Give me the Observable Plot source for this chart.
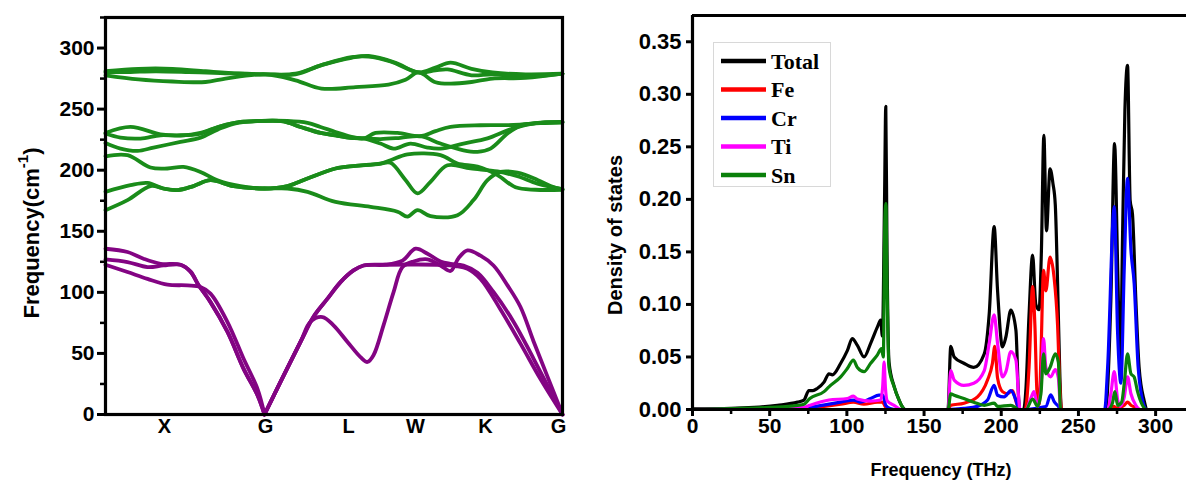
<!DOCTYPE html>
<html>
<head>
<meta charset="utf-8">
<script src="https://cdn.jsdelivr.net/npm/d3@7"></script>
<script src="https://cdn.jsdelivr.net/npm/@observablehq/plot@0.6"></script>
<style>
  html, body { margin: 0; padding: 0; background: #fff; overflow: hidden; }
  #wrap { position: relative; width: 1186px; height: 482px; background: #fff; }
  #left { position: absolute; left: 0; top: 0; width: 600px; height: 482px; }
  #right { position: absolute; left: 600px; top: 0; width: 586px; height: 482px; }
  #legend { position: absolute; left: 713px; top: 42px; width: 116px; height: 143px;
            border: 1px solid #d8d8d8; background: #fff; }
  svg { overflow: visible; }
</style>
</head>
<body>
<div id="wrap">
  <div id="left"></div>
  <div id="right"></div>
  <div id="legend"></div>
</div>
<script>
// ---------------- Left panel: phonon dispersion (k-path distance, frequency cm^-1) ----------------
const kPoints = [59, 160, 243, 310, 380, 453];
const kLabels = ["X", "G", "L", "W", "K", "G"];
const freqTicks = [0, 50, 100, 150, 200, 250, 300];
const freqMinorTicks = [25, 75, 125, 175, 225, 275, 325];

// acoustic branches
const acousticLow = [[0,122.6],[22,116.6],[42,111],[62,106.3],[82,105.7],[95,104.4],[105,99],[122,75.7],[138,45.8],[152,21],[159,0],[175,26.7],[195,59.4],[205,76],[217,79.8],[228,73],[242,59.4],[255,47],[262,43],[268,48.5],[278,73],[288,100],[297,120.7],[308,125.3],[322,127],[335,122],[345,117.5],[353,128],[362,134.3],[375,130],[388,122],[402,105.7],[415,88],[428,60],[442,31],[457,0]];
const acousticMid = [[0,127],[22,124.8],[42,120.7],[58,122],[75,122.6],[85,117],[93,106],[105,92],[122,67.6],[138,37.6],[152,15.8],[159,0],[175,26.7],[195,59.4],[208,80],[222,94.8],[235,108.4],[248,118],[258,122],[280,122.6],[310,122.8],[335,122.5],[350,121.5],[362,119.3],[375,111],[395,86],[415,58],[435,29],[457,0]];
const acousticTop = [[0,135.7],[22,133],[38,127.5],[55,123.4],[75,122.6],[85,117],[93,106],[105,92],[122,67.6],[138,37.6],[152,15.8],[159,0],[175,26.7],[195,59.4],[208,80],[222,94.8],[235,108.4],[248,118],[258,122],[280,122.6],[297,126],[310,135.7],[322,131.6],[335,125.3],[345,123.4],[358,122],[372,116],[388,100.3],[408,76],[428,45.8],[457,0]];

// optical branches, lower group
const opticalD = [[0,211.4],[22,212.3],[45,202.2],[62,201.4],[78,202.7],[95,198.6],[112,191.8],[135,187],[159,185],[182,187],[202,193.2],[230,201.4],[250,203.5],[275,205.4],[285,208.2],[302,213],[335,212.3],[352,205.4],[372,203],[392,196],[410,186],[430,184],[457,184]];
const opticalE = [[0,182.3],[25,187.7],[42,189.6],[58,185],[72,183.7],[88,187],[105,191.8],[128,187],[159,185],[182,185],[202,182.3],[230,174],[265,170],[292,166],[302,162],[312,167.3],[325,162.4],[352,163.2],[368,175.5],[382,191.8],[395,198.6],[412,198],[432,192],[445,187],[457,184]];
const opticalF = [[0,167.3],[22,175.5],[45,187],[58,185],[72,183.7],[88,187],[105,191.8],[128,187],[159,185],[182,187],[202,193.2],[230,201.4],[250,203.5],[275,205.4],[285,206],[300,192],[312,181],[325,190.5],[342,204],[365,201.4],[392,199],[412,195],[432,189],[457,184.5]];

// optical branches, middle group
const opticalM1 = [[0,230.5],[25,235.4],[55,229.4],[75,228.6],[95,230],[115,236],[135,239.5],[155,240.3],[182,240.3],[202,238.7],[215,235.4],[230,231.3],[245,227.5],[258,226],[270,230.5],[292,230.5],[315,227.8],[330,232],[345,235.4],[375,236.8],[408,237],[435,238.5],[457,239]];
const opticalM2 = [[0,230],[15,226.7],[35,225.9],[55,228.6],[75,228.3],[95,230.5],[115,236],[135,239.5],[155,240.3],[178,240],[195,235.4],[215,230.5],[230,228.6],[245,226.5],[258,226],[275,225.5],[295,226.5],[315,227.8],[335,221.8],[358,216.3],[372,215],[385,217.7],[402,230],[415,236.5],[435,238.8],[457,239.5]];
const opticalM3 = [[0,222.3],[15,217.7],[32,215.8],[48,218.5],[75,223.2],[95,226.7],[112,233.2],[128,238],[155,240.3],[178,240],[195,235.4],[215,230.5],[230,228.6],[245,226.5],[258,226],[275,221.8],[288,217.7],[305,221.8],[322,218.5],[335,217.7],[358,221.8],[382,226],[405,233.5],[430,238.5],[457,239.5]];

// optical branches, top group
const opticalT1 = [[0,281],[33,283],[67,283],[100,281],[133,279.2],[160,278.5],[190,278.5],[216,286],[246,292],[263,293.5],[290,288],[313,280],[330,284],[345,288],[366,283],[387,280],[420,278.5],[457,279]];
const opticalT2 = [[0,280],[25,280.4],[50,281],[83,280.4],[115,279.5],[160,278.5],[190,279],[216,286],[246,292.5],[263,293],[285,289],[313,280],[330,281.7],[342,282.5],[366,277.7],[387,278.5],[420,276.5],[457,279]];
const opticalT3 = [[0,277.7],[33,274.3],[67,272.6],[100,272.2],[120,275],[160,278.5],[190,273.6],[216,266.8],[250,268],[283,270],[300,274],[313,280],[330,272],[345,270.8],[366,272.2],[387,275],[420,275.5],[457,279]];

// ---------------- Right panel: phonon DOS (frequency THz, density of states) ----------------
const thzTicks = [0, 50, 100, 150, 200, 250, 300];
const thzMinorTicks = [25, 75, 125, 175, 225, 275];
const dosTicks = [0, 0.05, 0.10, 0.15, 0.20, 0.25, 0.30, 0.35];

const dosTotal = [[0,0.0005],[25,0.001],[40,0.002],[55,0.004],[68,0.007],[72.2,0.009],[75.4,0.018],[78,0.018],[80.8,0.02],[85.2,0.026],[88.4,0.034],[90.6,0.033],[96,0.044],[100.3,0.056],[103.5,0.0675],[106.8,0.061],[111.1,0.05],[115.4,0.063],[119.8,0.0786],[121.9,0.085],[123,0.07],[124.4,0.2],[125.2,0.2885],[126,0.15],[127.3,0.045],[130.6,0.022],[133.8,0.009],[136,0.0025],[138,0],[165.5,0],[167.3,0.06],[169.5,0.05],[175.8,0.044],[182.2,0.04],[189,0.053],[192.2,0.091],[195.4,0.174],[197.6,0.1135],[200.8,0.0596],[203,0.069],[206.2,0.0945],[209.5,0.0755],[211.3,0.01],[212,0],[214.5,0],[216,0.02],[218,0.09],[220.3,0.147],[222.4,0.1],[224.5,0.095],[226,0.15],[227.6,0.261],[229.3,0.17],[231.6,0.229],[233.5,0.215],[235,0.195],[236.5,0.12],[238,0.03],[239,0],[267.5,0],[271,0.104],[273.4,0.253],[275.4,0.136],[277.1,0.04],[278.6,0.167],[280.1,0.285],[281.8,0.3275],[283.5,0.199],[285,0.186],[287.2,0.104],[289.3,0.04],[292.5,0.009],[294.8,0],[320,0]];
const dosFe = [[0,0],[72,0.001],[80,0.002],[96,0.005],[104.2,0.007],[111,0.005],[119.8,0.007],[123,0.007],[125.2,0.002],[128,0],[165.5,0],[167.3,0.004],[175.8,0.006],[184.6,0.012],[191.1,0.028],[194.3,0.044],[195.8,0.06],[197.6,0.03],[200.8,0.017],[204,0.015],[207.3,0.018],[209.5,0.008],[211.6,0],[215.5,0],[218,0.04],[220.3,0.117],[221.8,0.08],[223.1,0.018],[224.6,0.005],[225.7,0.05],[227.4,0.1325],[228.9,0.113],[231.6,0.145],[234.2,0.126],[236.5,0.08],[238,0.02],[239,0],[270,0],[273,0.003],[275,0.001],[279.7,0.004],[281.8,0.007],[284,0.004],[287,0.002],[290,0],[320,0]];
const dosCr = [[0,0],[72,0.001],[80,0.003],[96,0.007],[104.2,0.009],[109,0.007],[115.4,0.0105],[120.8,0.0136],[123.3,0.0136],[125.2,0.004],[128,0.001],[132,0],[165.5,0],[175.8,0.001],[184.6,0.003],[191.1,0.009],[195.4,0.023],[197.6,0.0136],[201.9,0.012],[206.2,0.018],[209.5,0.009],[211.6,0],[216,0],[226,0.002],[229,0.003],[232,0.014],[234.5,0.007],[237,0.003],[238.5,0],[267,0],[268.9,0.04],[273.2,0.193],[275.4,0.072],[277.5,0.025],[279.7,0.136],[281.8,0.22],[284,0.152],[286.1,0.12],[288.7,0.04],[292.6,0.003],[294,0],[320,0]];
const dosTi = [[0,0],[50,0.001],[72,0.002],[76,0.004],[88.4,0.009],[100.3,0.0105],[104.2,0.0127],[106.8,0.01],[115.4,0.008],[121.9,0.009],[123.2,0.022],[124.1,0.045],[125,0.02],[126.2,0.008],[130.6,0.004],[135,0],[165.5,0],[167.3,0.037],[169.5,0.028],[175.8,0.023],[182.2,0.025],[189,0.037],[192.2,0.063],[195.4,0.09],[197.6,0.063],[200.8,0.031],[203,0.036],[206.2,0.055],[209.5,0.047],[211.6,0.005],[212,0],[216,0],[219.5,0.012],[221.2,0.017],[223.5,0.003],[225.7,0.02],[227.4,0.0675],[228.9,0.04],[232,0.031],[235,0.038],[237,0.03],[238.5,0],[269,0],[271,0.015],[273.2,0.036],[275.4,0.009],[277,0.003],[279.7,0.012],[281.8,0.031],[284,0.015],[287.2,0.004],[290,0],[320,0]];
const dosSn = [[0,0],[25,0.0008],[50,0.002],[68,0.004],[72.2,0.005],[76,0.0105],[85.2,0.017],[88.4,0.0216],[96,0.031],[100.3,0.039],[104.2,0.047],[106.8,0.04],[111.1,0.036],[115.4,0.044],[119.8,0.052],[122.4,0.058],[123.6,0.05],[124.6,0.18],[125.3,0.196],[126,0.12],[127.3,0.04],[130.6,0.0216],[133.8,0.009],[136,0.0025],[137.5,0],[165.5,0],[167.3,0.015],[169.5,0.0136],[175.8,0.0105],[182.2,0.007],[189,0.004],[195.4,0.006],[197.6,0.003],[206.2,0.004],[211.6,0],[216,0],[220.3,0.01],[223.5,0.003],[225.7,0.015],[227.4,0.053],[228.9,0.034],[231.6,0.04],[235,0.053],[237,0.045],[238.5,0],[269,0],[272,0.006],[273.6,0.017],[275.4,0.004],[278,0.007],[279.7,0.025],[281.8,0.053],[284,0.034],[286.1,0.031],[288.3,0.017],[291.5,0.004],[294,0],[320,0]];

const dosSeries = ["Total", "Fe", "Cr", "Ti", "Sn"];
const dosColors = ["#000000", "#ff0000", "#0000ff", "#ff00ff", "#0a800a"];
const dosValues = [dosTotal, dosFe, dosCr, dosTi, dosSn];

// ---------------- build tables ----------------
const GREEN = "#1a8c1a";
const PURPLE = "#830483";
function rowsOf(name, pts, split) {
  const rows = [];
  pts.forEach(([k, f]) => {
    if (split == null) rows.push({k, f, seg: name});
    else {
      if (k <= split) rows.push({k, f, seg: name + "-a"});
      if (k >= split) rows.push({k, f, seg: name + "-b"});
    }
  });
  return rows;
}
const acousticRows = [
  ...rowsOf("low", acousticLow, 159),
  ...rowsOf("mid", acousticMid, 159),
  ...rowsOf("top", acousticTop, 159)
];
const opticalRows = [
  ["D", opticalD], ["E", opticalE], ["F", opticalF],
  ["M1", opticalM1], ["M2", opticalM2], ["M3", opticalM3],
  ["T1", opticalT1], ["T2", opticalT2], ["T3", opticalT3]
].flatMap(([n, p]) => rowsOf(n, p, null));

const bold = {fontFamily: "'Liberation Sans', Arial, sans-serif", fontWeight: "bold", color: "#000", background: "transparent"};

const left = Plot.plot({
  width: 600, height: 482,
  marginLeft: 105, marginRight: 38, marginTop: 17, marginBottom: 68,
  style: bold,
  x: {domain: [0, 457]},
  y: {domain: [0, 325]},
  marks: [
    Plot.line(acousticRows, {x: "k", y: "f", z: "seg", stroke: PURPLE, strokeWidth: 3.8, curve: "catmull-rom"}),
    Plot.line(opticalRows, {x: "k", y: "f", z: "seg", stroke: GREEN, strokeWidth: 3.8, curve: "catmull-rom"}),
    Plot.frame({stroke: "#000", strokeWidth: 3.2}),
    Plot.axisY({ticks: freqTicks, tickSize: 8, tickPadding: 3, fontSize: 21, fontWeight: "bold", strokeWidth: 3, label: null}),
    Plot.axisY({ticks: freqMinorTicks, tickSize: 5, tickFormat: () => "", strokeWidth: 2.5, label: null}),
    Plot.axisX({ticks: kPoints, tickFormat: (d, i) => kLabels[i], tickSize: 0, tickPadding: 4, fontSize: 20, fontWeight: "bold", label: null})
  ]
});
d3.select(left).append("text")
  .attr("transform", "translate(31,233) rotate(-90)")
  .attr("text-anchor", "middle")
  .attr("dominant-baseline", "central")
  .attr("font-size", 22).attr("font-weight", "bold")
  .attr("font-family", "'Liberation Sans', Arial, sans-serif")
  .call(t => {
    t.append("tspan").text("Frequency(cm");
    t.append("tspan").attr("dy", -9).attr("font-size", 15).text("-1");
    t.append("tspan").attr("dy", 9).text(")");
  });
document.getElementById("left").appendChild(left);

const dosMarks = dosValues.map((vals, i) =>
  Plot.line(vals, {x: d => d[0], y: d => d[1], stroke: dosColors[i], strokeWidth: 3.2, curve: "monotone-x"})
);
const right = Plot.plot({
  width: 586, height: 482,
  marginLeft: 92, marginRight: 0, marginTop: 15, marginBottom: 73,
  style: bold,
  x: {domain: [0, 320]},
  y: {domain: [0, 0.375]},
  marks: [
    ...dosMarks,
    Plot.ruleY([0], {stroke: "#000", strokeWidth: 3.2}),
    Plot.ruleY([0.375], {stroke: "#000", strokeWidth: 3.2}),
    Plot.ruleX([0], {stroke: "#000", strokeWidth: 3.2}),
    Plot.axisY({ticks: dosTicks, tickFormat: d3.format(".2f"), tickSize: 6, tickPadding: 5, fontSize: 22, fontWeight: "bold", strokeWidth: 3, label: null}),
    Plot.axisX({ticks: thzTicks, tickSize: 7, tickPadding: 2, fontSize: 21, fontWeight: "bold", strokeWidth: 3, label: null}),
    Plot.axisX({ticks: thzMinorTicks, tickSize: 5, tickFormat: () => "", strokeWidth: 2.5, label: null})
  ]
});
d3.select(right).append("text")
  .attr("transform", "translate(15,235) rotate(-90)")
  .attr("text-anchor", "middle").attr("dominant-baseline", "central")
  .attr("font-size", 20).attr("font-weight", "bold")
  .attr("font-family", "'Liberation Sans', Arial, sans-serif")
  .text("Density of states");
d3.select(right).append("text")
  .attr("x", 341).attr("y", 476)
  .attr("text-anchor", "middle")
  .attr("font-size", 18).attr("font-weight", "bold")
  .attr("font-family", "'Liberation Sans', Arial, sans-serif")
  .text("Frequency (THz)");
document.getElementById("right").appendChild(right);

// legend
const lg = d3.select("#legend").append("svg").attr("width", 116).attr("height", 143);
dosSeries.forEach((name, i) => {
  const y = 18 + i * 28.5;
  lg.append("line").attr("x1", 7).attr("x2", 52).attr("y1", y).attr("y2", y)
    .attr("stroke", dosColors[i]).attr("stroke-width", 4.5);
  lg.append("text").attr("x", 57).attr("y", y).attr("dominant-baseline", "central")
    .attr("font-family", "'Liberation Serif', 'Times New Roman', serif")
    .attr("font-weight", "bold").attr("font-size", 22).text(name);
});
</script>
</body>
</html>
